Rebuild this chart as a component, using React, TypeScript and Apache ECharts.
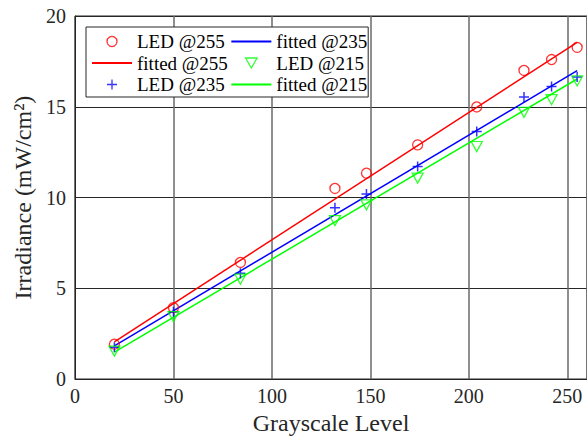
import React, { useEffect, useRef } from "react";
import * as echarts from "echarts";

const grayLevels = [20, 50, 84, 132, 148, 174, 204, 228, 242, 255];
const led255 = [1.92, 3.93, 6.42, 10.5, 11.34, 12.9, 14.99, 17.0, 17.6, 18.27];
const led235 = [1.75, 3.71, 5.83, 9.43, 10.19, 11.71, 13.64, 15.54, 16.12, 16.64];
const led215 = [1.54, 3.44, 5.5, 8.73, 9.6, 11.07, 12.81, 14.69, 15.39, 16.42];

const fitX = [20, 255];
const fit255 = [2.05, 18.55];
const fit235 = [1.82, 16.99];
const fit215 = [1.48, 16.53];

const legendNames = ["LED @255", "fitted @255", "LED @235", "fitted @235", "LED @215", "fitted @215"];

const FONT = "Liberation Serif";

const pairs = (xs: number[], ys: number[]) => xs.map((x, i) => [x, ys[i]]);

export default function App() {
  const ref = useRef<HTMLDivElement>(null);
  useEffect(() => {
    if (!ref.current) return;
    const chart = echarts.init(ref.current, null, { renderer: "svg" });
    const plus = "path://M5,0L5,10M0,5L10,5";
    const triDown = "path://M0,0L10,0L5,8.66Z";
    const hiddenSymbol = { color: "transparent", borderColor: "transparent", borderWidth: 0, opacity: 0 };
    chart.setOption({
      animation: false,
      grid: {
        left: 75,
        top: 16,
        width: 514,
        height: 363,
        show: true,
        borderColor: "#262626",
        borderWidth: 1,
        backgroundColor: "transparent",
      },
      xAxis: {
        type: "value",
        min: 0,
        max: 260,
        interval: 50,
        name: "Grayscale Level",
        nameLocation: "middle",
        nameGap: 31,
        nameTextStyle: { fontFamily: FONT, fontSize: 24, color: "#262626" },
        axisLine: { show: true, lineStyle: { color: "#262626", width: 1 } },
        axisTick: { show: false },
        axisLabel: {
          fontFamily: FONT,
          fontSize: 20,
          color: "#262626",
          margin: 7,
          showMaxLabel: false,
        },
        splitLine: { show: true, lineStyle: { color: "#6a6a6a", width: 1.5 } },
      },
      yAxis: {
        type: "value",
        min: 0,
        max: 20,
        interval: 5,
        name: "Irradiance (mW/cm²)",
        nameLocation: "middle",
        nameGap: 34,
        nameTextStyle: { fontFamily: FONT, fontSize: 24, color: "#262626" },
        axisLine: { show: true, lineStyle: { color: "#262626", width: 1 } },
        axisTick: { show: false },
        axisLabel: { fontFamily: FONT, fontSize: 20, color: "#262626", margin: 9 },
        splitLine: { show: true, lineStyle: { color: "#262626", width: 1 } },
      },
      legend: {
        orient: "vertical",
        left: 86,
        top: 27,
        height: 75,
        padding: [5, 1, 3, 5],
        itemGap: 2.5,
        itemWidth: 40,
        itemHeight: 10,
        backgroundColor: "#fff",
        borderColor: "#262626",
        borderWidth: 1,
        borderRadius: 0,
        itemStyle: { borderWidth: 1.3 },
        textStyle: { fontFamily: FONT, fontSize: 19, color: "#000", width: 97 },
        data: legendNames.map((n) =>
          n.startsWith("fitted") ? { name: n, itemStyle: hiddenSymbol } : { name: n }
        ),
      },
      series: [
        {
          name: legendNames[0],
          type: "scatter",
          symbol: "circle",
          symbolSize: 10,
          itemStyle: { color: "transparent", borderColor: "#ff0000", borderWidth: 1.3 },
          data: pairs(grayLevels, led255),
          z: 5,
        },
        {
          name: legendNames[1],
          type: "line",
          symbol: "none",
          lineStyle: { color: "#ff0000", width: 1.5 },
          itemStyle: { color: "#ff0000" },
          data: pairs(fitX, fit255),
        },
        {
          name: legendNames[2],
          type: "scatter",
          symbol: plus,
          symbolSize: 10,
          itemStyle: { color: "transparent", borderColor: "#0000ff", borderWidth: 1.5 },
          data: pairs(grayLevels, led235),
          z: 5,
        },
        {
          name: legendNames[3],
          type: "line",
          symbol: "none",
          lineStyle: { color: "#0000ff", width: 1.5 },
          itemStyle: { color: "#0000ff" },
          data: pairs(fitX, fit235),
        },
        {
          name: legendNames[4],
          type: "scatter",
          symbol: triDown,
          symbolSize: [11, 10],
          itemStyle: { color: "transparent", borderColor: "#00ff00", borderWidth: 1.3 },
          data: pairs(grayLevels, led215),
          z: 5,
        },
        {
          name: legendNames[5],
          type: "line",
          symbol: "none",
          lineStyle: { color: "#00ff00", width: 1.5 },
          itemStyle: { color: "#00ff00" },
          data: pairs(fitX, fit215),
        },
      ],
    });
    return () => chart.dispose();
  }, []);
  return (
    <div
      ref={ref}
      style={{ position: "fixed", left: 0, top: 0, width: 587, height: 441, background: "#fff" }}
    />
  );
}
